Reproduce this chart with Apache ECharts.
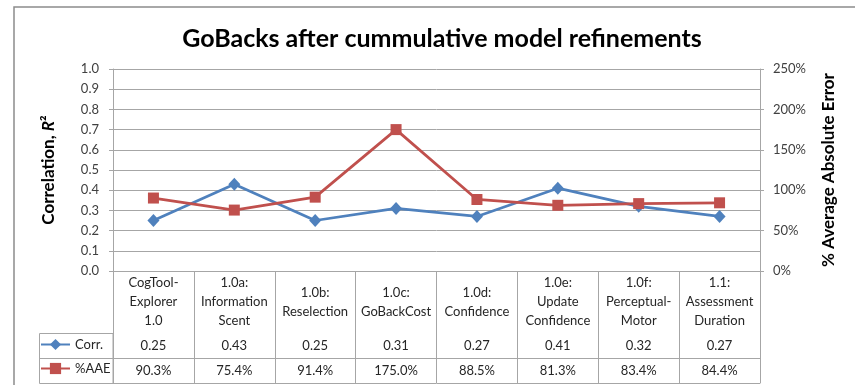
<!DOCTYPE html>
<html>
<head>
<meta charset="utf-8">
<title>GoBacks after cummulative model refinements</title>
<script src="https://cdn.jsdelivr.net/npm/echarts@6/dist/echarts.min.js"></script>
<style>
  html, body { margin: 0; padding: 0; background: #ffffff; }
  #chart { width: 855px; height: 385px; }
</style>
</head>
<body>
<div id="chart"></div>
<script>
// Model versions, in the order the refinements were applied
const categories = [
  'CogTool-\nExplorer\n1.0',
  '1.0a:\nInformation\nScent',
  '1.0b:\nReselection',
  '1.0c:\nGoBackCost',
  '1.0d:\nConfidence',
  '1.0e:\nUpdate\nConfidence',
  '1.0f:\nPerceptual-\nMotor',
  '1.1:\nAssessment\nDuration'
];
// Correlation R^2 per model
const corrValues = [0.25, 0.43, 0.25, 0.31, 0.27, 0.41, 0.32, 0.27];
// Percent average absolute error per model (in %)
const aaeValues = [90.3, 75.4, 91.4, 175.0, 88.5, 81.3, 83.4, 84.4];
// Axis tick settings
const corrTicks = { min: 0, max: 1, interval: 0.1 };
const aaeTicks = { min: 0, max: 250, interval: 50 };

const FONT = 'Lato, "Open Sans", sans-serif';
const BLUE = '#4F81BD';
const RED = '#C0504D';
const GRID_GRAY = '#a6a6a6';
const TEXT = '#262626';

const chart = echarts.init(document.getElementById('chart'), null, { renderer: 'canvas' });

const gridLeft = 113, gridRight = 95, gridTop = 69, gridBottom = 114;
const rowHeaderH = 62, rowH = 25;
const tableTop = 385 - gridBottom;

// Category axis drawn along one horizontal rule of the data table
function tableRowAxis(offset, formatter, showLabel) {
  return {
    type: 'category',
    gridIndex: 0,
    position: 'bottom',
    offset: offset,
    data: categories,
    boundaryGap: true,
    axisLine: { show: true, lineStyle: { color: GRID_GRAY, width: 1 } },
    axisTick: { show: false },
    splitLine: { show: false },
    axisLabel: {
      show: showLabel,
      interval: 0,
      margin: rowH / 2,
      verticalAlign: 'middle',
      fontFamily: FONT,
      fontSize: 13,
      color: TEXT,
      formatter: formatter
    }
  };
}

const option = {
  backgroundColor: '#ffffff',
  animation: false,
  textStyle: { fontFamily: FONT },
  title: {
    text: 'GoBacks after cummulative model refinements',
    left: 437,
    top: 21,
    textAlign: 'center',
    textStyle: { fontFamily: FONT, fontSize: 25, fontWeight: 'bold', color: '#000000' }
  },
  legend: {
    orient: 'vertical',
    left: 40,
    top: tableTop + rowHeaderH + 5,
    padding: 0,
    itemWidth: 29,
    itemHeight: 14,
    itemGap: 11,
    selectedMode: false,
    textStyle: { fontFamily: FONT, fontSize: 13, color: TEXT },
    data: ['Corr.', '%AAE']
  },
  grid: { left: gridLeft, right: gridRight, top: gridTop, bottom: gridBottom },
  xAxis: [
    {
      type: 'category',
      position: 'bottom',
      data: categories,
      boundaryGap: true,
      axisLine: { show: true, lineStyle: { color: GRID_GRAY, width: 1 } },
      axisTick: {
        show: true,
        interval: 0,
        length: rowHeaderH + 2 * rowH,
        lineStyle: { color: GRID_GRAY, width: 1 }
      },
      axisLabel: {
        interval: 0,
        margin: rowHeaderH / 2,
        verticalAlign: 'middle',
        lineHeight: 19,
        fontFamily: FONT,
        fontSize: 13,
        color: TEXT
      }
    },
    tableRowAxis(rowHeaderH, (v, i) => corrValues[i].toFixed(2), true),
    tableRowAxis(rowHeaderH + rowH, (v, i) => aaeValues[i].toFixed(1) + '%', true),
    tableRowAxis(rowHeaderH + 2 * rowH, '', false)
  ],
  yAxis: [
    {
      type: 'value',
      position: 'left',
      min: corrTicks.min,
      max: corrTicks.max,
      interval: corrTicks.interval,
      name: '{t|Correlation, }{i|R}{t|²}',
      nameLocation: 'middle',
      nameRotate: 90,
      nameGap: 56,
      nameTextStyle: {
        rich: {
          t: { fontFamily: FONT, fontSize: 17, fontWeight: 'bold', color: '#000' },
          i: { fontFamily: FONT, fontSize: 17, fontWeight: 'bold', fontStyle: 'italic', color: '#000' }
        }
      },
      axisLine: { show: true, lineStyle: { color: GRID_GRAY, width: 1 } },
      axisTick: { show: true, length: 4, lineStyle: { color: GRID_GRAY } },
      splitLine: { show: true, lineStyle: { color: GRID_GRAY, width: 1 } },
      axisLabel: {
        margin: 14,
        fontFamily: FONT,
        fontSize: 13,
        color: '#404040',
        formatter: v => v.toFixed(1)
      }
    },
    {
      type: 'value',
      position: 'right',
      min: aaeTicks.min,
      max: aaeTicks.max,
      interval: aaeTicks.interval,
      name: '% Average Absolute Error',
      nameLocation: 'middle',
      nameRotate: 90,
      nameGap: 60,
      nameTextStyle: { fontFamily: FONT, fontSize: 17, fontWeight: 'bold', color: '#000' },
      axisLine: { show: true, lineStyle: { color: GRID_GRAY, width: 1 } },
      axisTick: { show: true, length: 4, lineStyle: { color: GRID_GRAY } },
      splitLine: { show: false },
      axisLabel: {
        margin: 13,
        fontFamily: FONT,
        fontSize: 13,
        color: '#404040',
        formatter: v => v + '%'
      }
    }
  ],
  series: [
    {
      name: 'Corr.',
      type: 'line',
      xAxisIndex: 0,
      yAxisIndex: 0,
      data: corrValues,
      symbol: 'diamond',
      symbolSize: [12, 13],
      lineStyle: { color: BLUE, width: 2.75 },
      itemStyle: { color: BLUE },
      z: 3
    },
    {
      name: '%AAE',
      type: 'line',
      xAxisIndex: 0,
      yAxisIndex: 1,
      data: aaeValues,
      symbol: 'rect',
      symbolSize: 11,
      lineStyle: { color: RED, width: 2.75 },
      itemStyle: { color: RED },
      z: 4
    }
  ],
  graphic: [
    // outer chart frame
    {
      type: 'rect',
      shape: { x: 14, y: 7, width: 900, height: 420 },
      style: { fill: 'none', stroke: '#8c8c8c', lineWidth: 1.5 },
      silent: true
    },
    // legend key column of the data table
    {
      type: 'rect',
      shape: { x: 39.5, y: tableTop + rowHeaderH + 0.5, width: gridLeft - 39.5, height: 2 * rowH },
      style: { fill: 'none', stroke: GRID_GRAY, lineWidth: 1 },
      silent: true
    },
    {
      type: 'line',
      shape: { x1: 39.5, y1: tableTop + rowHeaderH + rowH + 0.5, x2: gridLeft, y2: tableTop + rowHeaderH + rowH + 0.5 },
      style: { stroke: GRID_GRAY, lineWidth: 1 },
      silent: true
    }
  ]
};

chart.setOption(option);
</script>
</body>
</html>
